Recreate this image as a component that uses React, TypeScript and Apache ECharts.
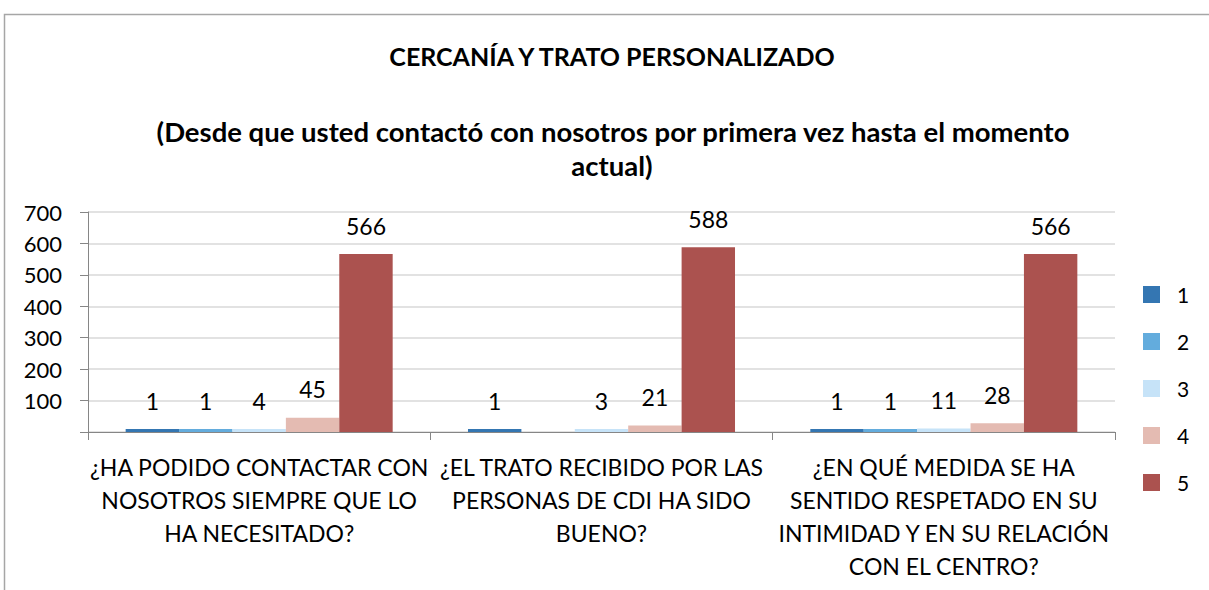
import React, { useEffect, useRef } from "react";
import * as echarts from "echarts";

const categories = [
  "¿HA PODIDO CONTACTAR CON\nNOSOTROS SIEMPRE QUE LO\nHA NECESITADO?",
  "¿EL TRATO RECIBIDO POR LAS\nPERSONAS DE CDI HA SIDO\nBUENO?",
  "¿EN QUÉ MEDIDA SE HA\nSENTIDO RESPETADO EN SU\nINTIMIDAD Y EN SU RELACIÓN\nCON EL CENTRO?",
];
const seriesNames = ["1", "2", "3", "4", "5"];
const s1 = [1, 1, 1];
const s2 = [1, null, 1];
const s3 = [4, 3, 11];
const s4 = [45, 21, 28];
const s5 = [566, 588, 566];
const seriesValues = [s1, s2, s3, s4, s5];
const colors = ["#3476b2", "#63acdd", "#c6e3f8", "#e4bbb2", "#ab524f"];
const titleText = "CERCANÍA Y TRATO PERSONALIZADO";
const subtitleLine1 = "(Desde que usted contactó con nosotros por primera vez hasta el momento";
const subtitleLine2 = "actual)";

const FONT = "Lato, 'Noto Sans', sans-serif";

export default function App() {
  const ref = useRef<HTMLDivElement>(null);
  useEffect(() => {
    if (!ref.current) return;
    const chart = echarts.init(ref.current, null, { renderer: "svg" });
    const titleStyle = {
      fontFamily: FONT,
      fontWeight: "bold",
      fontSize: 25,
      fill: "#000",
      textAlign: "center",
      textVerticalAlign: "middle",
    };
    chart.setOption({
      animation: false,
      backgroundColor: "#ffffff",
      textStyle: { fontFamily: FONT, color: "#000" },
      graphic: [
        {
          type: "rect",
          shape: { x: 4.5, y: 14.5, width: 1220, height: 600 },
          style: { fill: "none", stroke: "#a6a6a6", lineWidth: 1.5 },
          silent: true,
        },
        { type: "text", x: 612, y: 56, style: { ...titleStyle, text: titleText } },
        { type: "text", x: 613, y: 131, style: { ...titleStyle, fontSize: 27.5, text: subtitleLine1 } },
        { type: "text", x: 612, y: 165, style: { ...titleStyle, fontSize: 27.5, text: subtitleLine2 } },
      ],
      legend: {
        orient: "vertical",
        left: 1138,
        top: 279,
        itemWidth: 17,
        itemHeight: 17,
        itemGap: 26,
        icon: "rect",
        textStyle: { fontFamily: FONT, fontSize: 21, color: "#000", padding: [0, 0, 0, 12] },
        data: seriesNames,
      },
      grid: { left: 88, right: 94, top: 212, bottom: 158, containLabel: false },
      xAxis: {
        type: "category",
        data: categories,
        axisLine: { lineStyle: { color: "#868686", width: 1 } },
        axisTick: { show: true, length: 8, lineStyle: { color: "#868686" } },
        axisLabel: {
          interval: 0,
          margin: 18,
          fontFamily: FONT,
          fontSize: 23,
          lineHeight: 33,
          color: "#000",
          align: "center",
        },
      },
      yAxis: {
        type: "value",
        min: 0,
        max: 700,
        interval: 100,
        axisLine: { show: true, lineStyle: { color: "#868686" } },
        axisTick: { show: true, length: 8, lineStyle: { color: "#868686" } },
        splitLine: { lineStyle: { color: "#d9d9d9", width: 1.5 } },
        axisLabel: {
          margin: 26,
          fontFamily: FONT,
          fontSize: 22,
          color: "#000",
          formatter: (v: number) => (v === 0 ? "" : String(v)),
        },
      },
      series: seriesNames.map((name, i) => ({
        name,
        type: "bar",
        data: seriesValues[i],
        barGap: "0%",
        barCategoryGap: "22%",
        barMinHeight: 3,
        itemStyle: { color: colors[i] },
        label: {
          show: true,
          position: "top",
          distance: 17,
          fontFamily: FONT,
          fontSize: 23,
          color: "#000",
        },
      })),
    });
    return () => chart.dispose();
  }, []);
  return (
    <div
      ref={ref}
      style={{ position: "fixed", left: 0, top: 0, width: 1209, height: 590 }}
    />
  );
}
